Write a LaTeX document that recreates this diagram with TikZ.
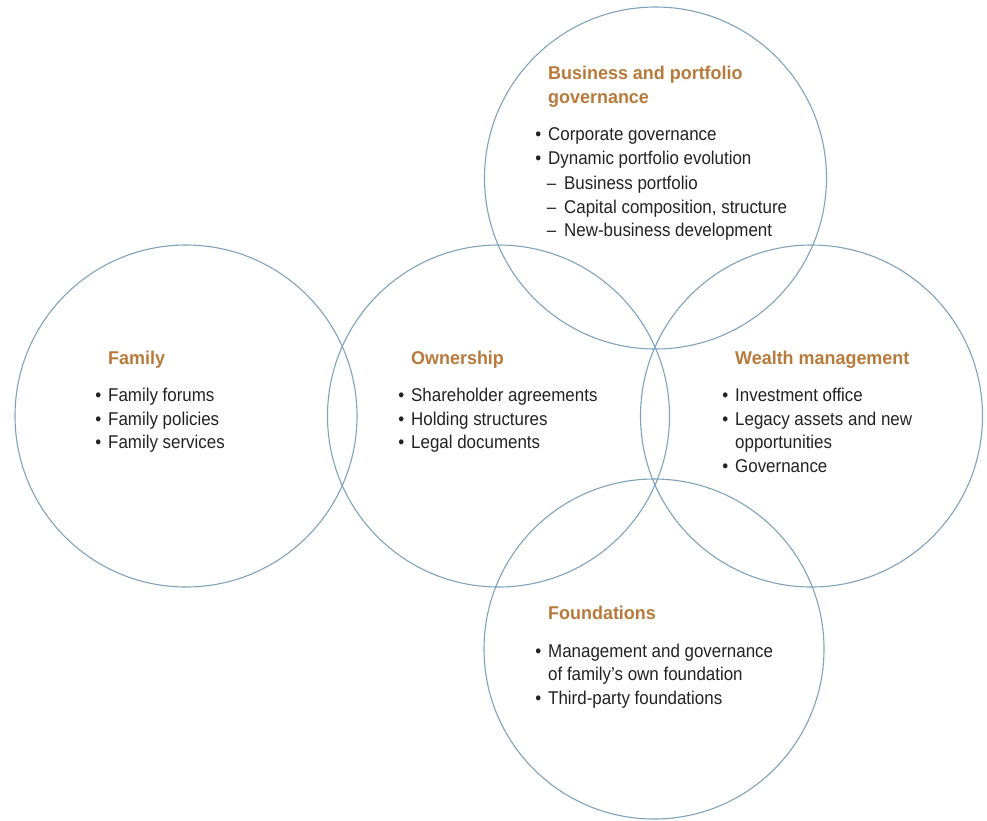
\documentclass[tikz,border=0pt]{standalone}
\usepackage{fontspec}
\setmainfont{Liberation Sans}[FakeStretch=0.915,BoldFeatures={FakeStretch=0.97}]
\definecolor{ringc}{HTML}{7FA3BC}
\definecolor{headc}{HTML}{B87A3A}
\definecolor{txtc}{HTML}{222222}
\newcommand\bul{\llap{•\hspace{7pt}}}
\newcommand\dsh{\llap{–\hspace{8pt}}}
\begin{document}
\begin{tikzpicture}[x=1pt,y=-1pt,
  ring/.style={draw=ringc,line width=1.1pt},
  txt/.style={inner sep=0pt,anchor=base west,text=txtc,font=\fontsize{18.5}{24}\selectfont},
  head/.style={txt,text=headc,font=\fontsize{18.5}{24}\selectfont\bfseries}]
\useasboundingbox (0,0) rectangle (987,820);
% circles
\draw[ring] (186,416) circle (171) node (family) {};
\draw[ring] (498.5,416) circle (171) node (owner) {};
\draw[ring] (655.5,178) circle (171) node (biz) {};
\draw[ring] (811.5,416) circle (171) node (wealth) {};
\draw[ring] (654,649) circle (170) node (found) {};
% Family
\node[head] (fh) at (108,364) {Family};
\node[txt] (f1) at (108,401) {\bul Family forums};
\node[txt] (f2) at (108,425) {\bul Family policies};
\node[txt] (f3) at (108,448) {\bul Family services};
% Ownership
\node[head] (oh) at (411,364) {Ownership};
\node[txt] (o1) at (411,401) {\bul Shareholder agreements};
\node[txt] (o2) at (411,425) {\bul Holding structures};
\node[txt] (o3) at (411,448) {\bul Legal documents};
% Business
\node[head] (bh1) at (548,79) {Business and portfolio};
\node[head] (bh2) at (548,103) {governance};
\node[txt] (b1) at (548,140) {\bul Corporate governance};
\node[txt] (b2) at (548,164) {\bul Dynamic portfolio evolution};
\node[txt] (b3) at (564,189) {\dsh Business portfolio};
\node[txt] (b4) at (564,213) {\dsh Capital composition, structure};
\node[txt] (b5) at (564,236) {\dsh New-business development};
% Wealth
\node[head] (wh) at (735,364) {Wealth management};
\node[txt] (w1) at (735,401) {\bul Investment office};
\node[txt] (w2) at (735,425) {\bul Legacy assets and new};
\node[txt] (w3) at (735,448) {opportunities};
\node[txt] (w4) at (735,472) {\bul Governance};
% Foundations
\node[head] (fdh) at (548,619) {Foundations};
\node[txt] (d1) at (548,657) {\bul Management and governance};
\node[txt] (d2) at (548,680) {of family’s own foundation};
\node[txt] (d3) at (548,704) {\bul Third-party foundations};
\end{tikzpicture}
\end{document}
